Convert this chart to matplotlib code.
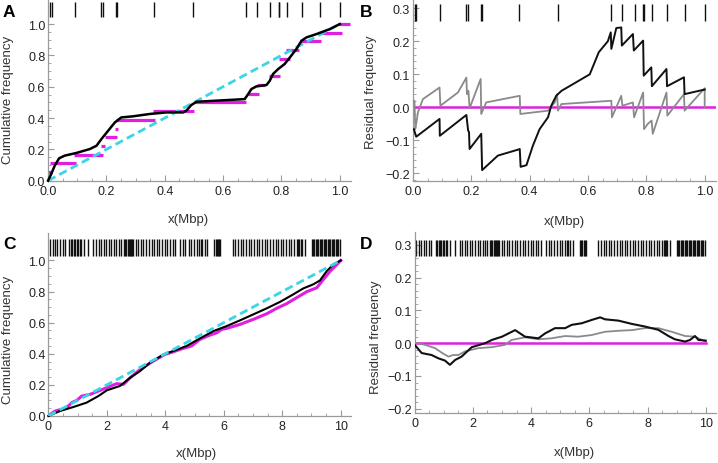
import matplotlib.pyplot as plt
from matplotlib.ticker import FixedLocator

plt.rcParams['font.family'] = ['Liberation Sans', 'DejaVu Sans']

# ---------------- dados: intervalo de 1 Mbp (paineis A e B) ----------------
rug_1 = [0.008, 0.012, 0.091, 0.183, 0.19, 0.232, 0.236, 0.362, 0.497, 0.68,
         0.717, 0.76, 0.79, 0.793, 0.819, 0.872, 0.931, 1.0]

# curva cumulativa (preto)
a_x = [0, 0.011, 0.023, 0.038, 0.057, 0.097, 0.143, 0.166, 0.183, 0.206, 0.229,
       0.251, 0.291, 0.349, 0.406, 0.463, 0.474, 0.491, 0.509, 0.577, 0.674,
       0.686, 0.697, 0.714, 0.749, 0.76, 0.771, 0.789, 0.811, 0.829, 0.851,
       0.869, 0.886, 0.92, 0.966, 1.0]
a_y = [0, 0.043, 0.096, 0.143, 0.16, 0.177, 0.202, 0.223, 0.266, 0.319, 0.372,
       0.404, 0.411, 0.426, 0.436, 0.436, 0.447, 0.483, 0.504, 0.511, 0.521,
       0.553, 0.585, 0.602, 0.611, 0.638, 0.681, 0.713, 0.745, 0.787, 0.84,
       0.894, 0.915, 0.936, 0.968, 1.0]

# degraus da frequencia empirica (magenta)
deg_nivel = [0.056, 0.111, 0.167, 0.222, 0.278, 0.333, 0.389, 0.444, 0.5, 0.556,
             0.611, 0.667, 0.778, 0.833, 0.889, 0.944, 1.0]
deg_ini = [0.0, 0.006, 0.09, 0.18, 0.195, 0.228, 0.232, 0.36, 0.505, 0.685,
           0.715, 0.758, 0.79, 0.815, 0.862, 0.925, 0.995]
deg_fim = [0.012, 0.095, 0.19, 0.195, 0.237, 0.24, 0.366, 0.5, 0.68, 0.722,
           0.745, 0.795, 0.83, 0.86, 0.937, 1.006, 1.035]

# residuos (B)
b_preto_x = [0.003, 0.011, 0.091, 0.092, 0.183, 0.189, 0.192, 0.194, 0.234, 0.237,
             0.291, 0.36, 0.366, 0.369, 0.389, 0.411, 0.434, 0.463, 0.474, 0.491,
             0.509, 0.606, 0.637, 0.668, 0.678, 0.68, 0.697, 0.714, 0.716, 0.754,
             0.757, 0.789, 0.791, 0.817, 0.819, 0.869, 0.871, 0.929, 0.931, 1.0]
b_preto_y = [-0.066, -0.089, -0.035, -0.086, -0.023, -0.07, -0.075, -0.126, -0.08, -0.19,
             -0.146, -0.128, -0.126, -0.18, -0.175, -0.116, -0.066, -0.03, 0.005, 0.035,
             0.05, 0.1, 0.167, 0.2, 0.227, 0.177, 0.24, 0.242, 0.187, 0.222,
             0.172, 0.202, 0.096, 0.121, 0.064, 0.116, 0.064, 0.091, 0.04, 0.054]
b_cinza_x = [0.0, 0.005, 0.008, 0.017, 0.034, 0.091, 0.094, 0.154, 0.183, 0.185,
             0.19, 0.194, 0.232, 0.234, 0.251, 0.366, 0.368, 0.463, 0.486, 0.494,
             0.497, 0.509, 0.68, 0.682, 0.714, 0.718, 0.754, 0.758, 0.789, 0.792,
             0.805, 0.818, 0.822, 0.869, 0.872, 0.929, 0.931, 1.0, 1.0]
b_cinza_y = [0.02, 0.02, -0.066, -0.015, 0.025, 0.06, 0.005, 0.045, 0.09, 0.04,
             0.05, -0.003, 0.086, -0.02, 0.015, 0.035, -0.02, -0.01, 0.015, 0.04,
             -0.01, 0.01, 0.02, -0.03, 0.035, 0.005, 0.015, -0.03, 0.045, -0.066,
             -0.05, -0.04, -0.08, 0.045, -0.025, 0.04, -0.01, 0.058, 0.0]

# ---------------- dados: intervalo de 10 Mbp (paineis C e D) ----------------
rug_10 = [0.06, 0.15, 0.23, 0.31, 0.40, 0.49, 0.57,
          0.72, 0.77, 0.82, 0.87, 0.92, 0.97, 1.02, 1.07, 1.11,
          1.22, 1.37,
          1.54, 1.63, 1.72, 1.80, 1.89, 1.97, 2.06, 2.16, 2.23, 2.33, 2.42, 2.50,
          2.59, 2.63, 2.67, 2.71, 2.75, 2.79, 2.83, 2.87, 2.91,
          3.00, 3.08, 3.16, 3.25, 3.33,
          3.44, 3.53, 3.61, 3.71, 3.80, 3.89, 3.98, 4.07, 4.16, 4.25, 4.34,
          4.50, 4.60, 4.69, 4.80, 4.89, 4.98, 5.07, 5.17, 5.22, 5.26, 5.35, 5.44,
          5.68, 5.72, 5.76, 5.80, 5.84, 5.88,
          6.31, 6.40, 6.49, 6.58, 6.67, 6.76, 6.85, 6.94, 7.04, 7.13, 7.22, 7.31,
          7.40, 7.49, 7.58, 7.67, 7.77, 7.86, 7.95, 8.04, 8.13, 8.22, 8.31, 8.40,
          8.49, 8.55, 8.59, 8.64, 8.68, 8.77,
          9.01, 9.05, 9.08, 9.14, 9.18, 9.21, 9.28, 9.32, 9.35, 9.42, 9.46, 9.49,
          9.56, 9.60, 9.62, 9.69, 9.73, 9.76, 9.83, 9.87, 9.90, 9.97]

c_preto_x = [0, 0.4, 0.86, 1.31, 1.71, 2.0, 2.45, 2.8, 3.14, 3.48, 3.94, 4.28,
             4.73, 5.19, 5.65, 6.1, 6.56, 7.01, 7.47, 7.93, 8.38, 8.72, 9.06,
             9.29, 9.52, 9.75, 10.0]
c_preto_y = [0, 0.032, 0.058, 0.086, 0.128, 0.165, 0.193, 0.246, 0.289, 0.343,
             0.396, 0.418, 0.45, 0.499, 0.546, 0.578, 0.615, 0.653, 0.692, 0.734,
             0.782, 0.82, 0.846, 0.871, 0.931, 0.974, 1.0]
c_mag_x = [0, 0.23, 0.45, 0.63, 0.8, 0.97, 1.14, 1.43, 1.71, 2.0, 2.34, 2.57,
           2.8, 3.14, 3.59, 3.99, 4.28, 4.62, 4.9, 5.19, 5.53, 5.76, 5.93, 6.1,
           6.56, 7.01, 7.47, 7.81, 8.15, 8.49, 8.84, 9.18, 9.41, 9.64, 9.87, 10.0]
c_mag_y = [0, 0.032, 0.043, 0.054, 0.086, 0.1, 0.128, 0.139, 0.16, 0.182, 0.208,
           0.203, 0.246, 0.3, 0.353, 0.396, 0.413, 0.435, 0.45, 0.493, 0.52, 0.535,
           0.557, 0.563, 0.589, 0.621, 0.657, 0.692, 0.722, 0.76, 0.799, 0.824,
           0.878, 0.931, 0.974, 1.0]

d_preto_x = [0, 0.24, 0.58, 0.81, 1.04, 1.21, 1.39, 1.61, 1.96, 2.42, 2.65, 3.0,
             3.45, 3.79, 4.25, 4.48, 4.82, 5.17, 5.39, 5.74, 6.08, 6.37, 6.54, 7.0,
             7.46, 7.91, 8.37, 8.72, 8.94, 9.29, 9.46, 9.63, 9.75, 10.0]
d_preto_y = [-0.005, -0.03, -0.036, -0.046, -0.053, -0.066, -0.051, -0.041, -0.012,
             0.0, 0.01, 0.02, 0.04, 0.02, 0.015, 0.03, 0.046, 0.046, 0.056, 0.061,
             0.071, 0.079, 0.073, 0.069, 0.059, 0.051, 0.041, 0.022, 0.012, 0.005,
             0.01, 0.022, 0.01, 0.008]
d_cinza_x = [0, 0.36, 0.7, 0.93, 1.16, 1.32, 1.5, 1.73, 2.19, 2.65, 3.1, 3.33,
             3.79, 4.25, 4.7, 5.17, 5.62, 6.08, 6.54, 7.0, 7.46, 7.91, 8.37, 8.83,
             9.29, 9.63, 10.0]
d_cinza_y = [0.002, -0.005, -0.015, -0.029, -0.041, -0.036, -0.036, -0.025, -0.015,
             -0.012, -0.005, 0.01, 0.018, 0.012, 0.015, 0.022, 0.02, 0.025, 0.035,
             0.038, 0.04, 0.046, 0.046, 0.035, 0.022, 0.02, 0.005]

MAGENTA = '#e020e0'
CIANO = '#3ad6e6'
CINZA_EIXO = '#9a9a9a'


def estilo(ax, xmaj, xmin, ymaj, ymin, ylabels):
    for s in ['top', 'right']:
        ax.spines[s].set_visible(False)
    for s in ['left', 'bottom']:
        ax.spines[s].set_color(CINZA_EIXO)
        ax.spines[s].set_linewidth(0.9)
    ax.xaxis.set_major_locator(FixedLocator(xmaj))
    ax.xaxis.set_minor_locator(FixedLocator(xmin))
    ax.yaxis.set_major_locator(FixedLocator(ymaj))
    ax.yaxis.set_minor_locator(FixedLocator(ymin))
    ax.set_yticklabels(ylabels)
    ax.tick_params(which='both', direction='in', color=CINZA_EIXO,
                   labelcolor='#222222', labelsize=9)
    ax.tick_params(which='major', length=4, width=0.8)
    ax.tick_params(which='minor', length=2, width=0.6)
    ax.tick_params(axis='x', pad=3)
    ax.tick_params(axis='y', pad=2)


fig = plt.figure(figsize=(7.18, 4.64), dpi=100)

ticks01 = [0, 0.2, 0.4, 0.6, 0.8, 1.0]
lab01 = ['0.0', '0.2', '0.4', '0.6', '0.8', '1.0']
minor01 = [i * 0.05 for i in range(21)]
ticks_res = [-0.2, -0.1, 0.0, 0.1, 0.2, 0.3]
lab_res = ['\u22120.2', '\u22120.1', '0.0', '0.1', '0.2', '0.3']
minor_res = [-0.22 + i * 0.02 for i in range(27)]
ticks10 = [0, 2, 4, 6, 8, 10]
minor10 = [i * 0.5 for i in range(21)]

# ---------- A ----------
axA = fig.add_axes([0.0669, 0.6084, 0.4226, 0.3916])
axA.set_xlim(0, 1.04)
axA.set_ylim(0, 1.16)
axA.hlines(deg_nivel, deg_ini, deg_fim, color=MAGENTA, lw=2.3, zorder=2)
axA.plot([0, 1], [0, 1], color=CIANO, lw=2.0, dashes=(3, 1.6), zorder=3)
axA.plot(a_x, a_y, color='black', lw=1.8, zorder=4, clip_on=False)
axA.vlines(rug_1, 1.045, 1.14, color='#111111', lw=1.0)
estilo(axA, ticks01, minor01, ticks01, minor01, lab01)
axA.set_xticklabels(lab01)
axA.set_xlabel('x(Mbp)', fontsize=9.5, color='#333333')
axA.set_ylabel('Cumulative frequency', fontsize=9.5, color='#333333')
axA.xaxis.set_label_coords(0.464, -0.18)
axA.yaxis.set_label_coords(-0.113, 0.45)

# ---------- B ----------
axB = fig.add_axes([0.5752, 0.6084, 0.4225, 0.3916])
axB.set_xlim(0, 1.04)
axB.set_ylim(-0.222, 0.328)
axB.axhline(0, color=MAGENTA, lw=1.8, zorder=2)
axB.plot(b_cinza_x, b_cinza_y, color='#8a8a8a', lw=1.3, zorder=3)
axB.plot(b_preto_x, b_preto_y, color='#111111', lw=1.4, zorder=4)
axB.vlines(rug_1, 0.262, 0.314, color='#111111', lw=1.0)
estilo(axB, ticks01, minor01, ticks_res, minor_res, lab_res)
axB.set_xticklabels(lab01)
axB.set_xlabel('x(Mbp)', fontsize=9.5, color='#333333')
axB.set_ylabel('Residual frequency', fontsize=9.5, color='#333333')
axB.xaxis.set_label_coords(0.499, -0.19)
axB.yaxis.set_label_coords(-0.119, 0.49)

# ---------- C ----------
axC = fig.add_axes([0.0673, 0.1013, 0.4215, 0.394])
axC.set_xlim(0, 10.35)
axC.set_ylim(0, 1.175)
axC.plot(c_mag_x, c_mag_y, color=MAGENTA, lw=2.2, zorder=2)
axC.plot(c_preto_x, c_preto_y, color='black', lw=1.5, zorder=3, clip_on=False)
axC.plot([0, 10], [0, 1], color=CIANO, lw=2.0, dashes=(3, 1.6), zorder=4)
axC.vlines(rug_10, 1.03, 1.137, color='#111111', lw=1.0)
estilo(axC, ticks10, minor10, ticks01, minor01, lab01)
axC.set_xticklabels([str(t) for t in ticks10])
axC.set_xlabel('x(Mbp)', fontsize=9.5, color='#333333')
axC.set_ylabel('Cumulative frequency', fontsize=9.5, color='#333333')
axC.xaxis.set_label_coords(0.488, -0.17)
axC.yaxis.set_label_coords(-0.113, 0.42)

# ---------- D ----------
axD = fig.add_axes([0.5776, 0.1071, 0.4195, 0.391])
axD.set_xlim(0, 10.35)
axD.set_ylim(-0.214, 0.34)
axD.axhline(0, xmax=10.0 / 10.35, color=MAGENTA, lw=1.8, zorder=2)
axD.plot(d_cinza_x, d_cinza_y, color='#8a8a8a', lw=1.3, zorder=3)
axD.plot(d_preto_x, d_preto_y, color='#111111', lw=1.5, zorder=4)
axD.vlines(rug_10, 0.266, 0.315, color='#111111', lw=1.0)
estilo(axD, ticks10, minor10, ticks_res, minor_res, lab_res)
axD.set_xticklabels([str(t) for t in ticks10])
axD.set_xlabel('x(Mbp)', fontsize=9.5, color='#333333')
axD.set_ylabel('Residual frequency', fontsize=9.5, color='#333333')
axD.xaxis.set_label_coords(0.531, -0.18)
axD.yaxis.set_label_coords(-0.11, 0.426)

# letras dos paineis
for letra, (px, py) in zip('ABCD', [(3, 5), (360, 5), (3, 237), (360, 237)]):
    fig.text(px / 718, 1 - py / 464, letra, fontsize=12.5, fontweight='bold',
             ha='left', va='top')

fig.savefig('out.png', dpi=100)
